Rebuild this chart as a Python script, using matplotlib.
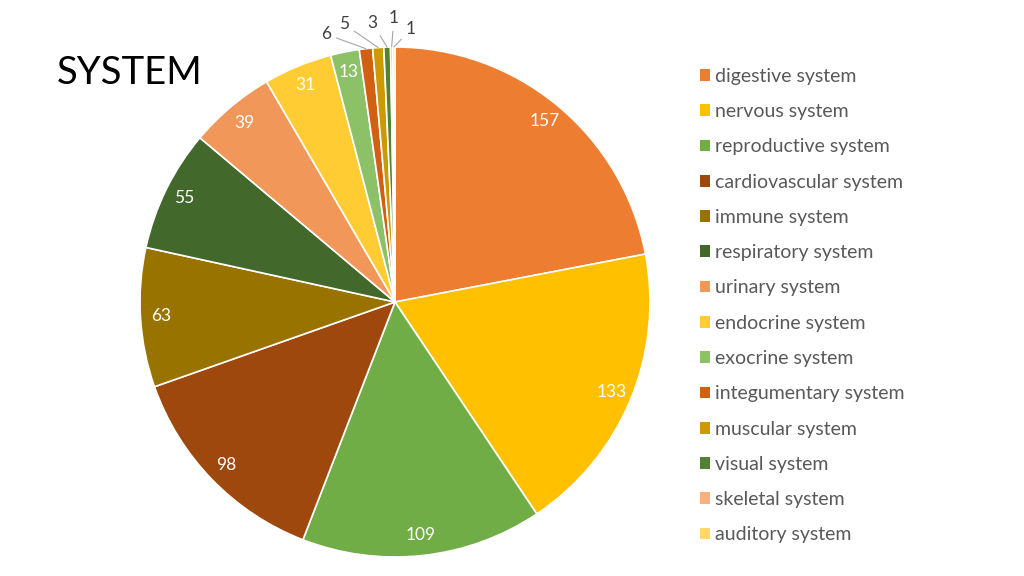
import matplotlib
matplotlib.use("Agg")
import matplotlib.pyplot as plt
import numpy as np
from matplotlib.patches import Patch

categories = ["digestive system", "nervous system", "reproductive system",
              "cardiovascular system", "immune system", "respiratory system",
              "urinary system", "endocrine system", "exocrine system",
              "integumentary system", "muscular system", "visual system",
              "skeletal system", "auditory system"]
values = [157, 133, 109, 98, 63, 55, 39, 31, 13, 6, 5, 3, 1, 1]
colors = ["#ED7D31", "#FFC000", "#70AD47", "#9E480E", "#997300", "#43682B",
          "#F1975A", "#FFCD33", "#8CC168", "#D26012", "#CC9A00", "#548235",
          "#F4B183", "#FFD966"]
# outside label positions (axes data coords) for the tiny slices
outside_pos = {9: (-0.27, 1.05), 10: (-0.20, 1.09), 11: (-0.09, 1.095),
               12: (-0.004, 1.115), 13: (0.063, 1.07)}

plt.rcParams['font.family'] = ['Lato', 'DejaVu Sans']
fig = plt.figure(figsize=(10.24, 5.76), dpi=100)
ax = fig.add_axes([(395 - 255) / 1024, 19 / 576, 510 / 1024, 510 / 576])
wedges, _ = ax.pie(values, colors=colors, startangle=90, counterclock=False,
                   radius=1, wedgeprops=dict(edgecolor="white", linewidth=1.2))
ax.set_xlim(-1, 1)
ax.set_ylim(-1, 1)
ax.set_aspect("equal")
ax.axis("off")

for i, (w, v) in enumerate(zip(wedges, values)):
    mid = np.deg2rad((w.theta1 + w.theta2) / 2)
    cx, cy = np.cos(mid), np.sin(mid)
    if i in outside_pos:
        ax.annotate(str(v), xy=(cx, cy), xytext=outside_pos[i],
                    ha="center", va="center", fontsize=12.5, color="#404040",
                    arrowprops=dict(arrowstyle="-", color="#A6A6A6", lw=0.8,
                                    shrinkA=2, shrinkB=0),
                    annotation_clip=False)
    else:
        ax.text(0.92 * cx, 0.92 * cy, str(v), ha="center", va="center",
                fontsize=12.5, color="white")

fig.text(57 / 1024, 1 - 73 / 576, "SYSTEM", fontsize=27.5, color="black",
         ha="left", va="center")

handles = [Patch(facecolor=c, edgecolor="none") for c in colors]
leg = fig.legend(handles, categories, loc="upper left",
                 bbox_to_anchor=(692 / 1024, 1 - 60 / 576), frameon=False,
                 fontsize=14, labelcolor="#595959", handlelength=0.55,
                 handleheight=0.55, handletextpad=0.25, labelspacing=0.94,
                 borderaxespad=0)

fig.savefig("out.png", dpi=100, facecolor="white")
